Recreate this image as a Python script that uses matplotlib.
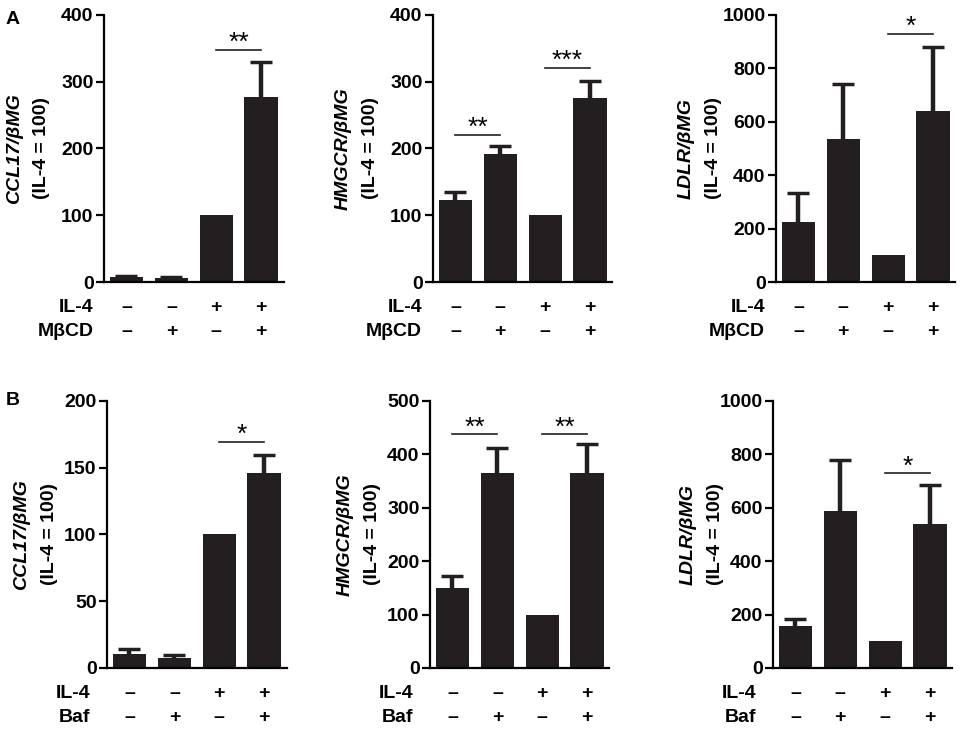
import matplotlib
matplotlib.use("Agg")
import matplotlib.pyplot as plt

plt.rcParams['font.family'] = ['Liberation Sans', 'DejaVu Sans']
plt.rcParams['font.weight'] = 'bold'

# bar values (IL-4 alone = 100)
a_ccl17 = [7, 6, 100, 277]
a_ccl17_err = [1.5, 1, 0, 52]
a_hmgcr = [123, 191, 100, 276]
a_hmgcr_err = [12, 12, 0, 25]
a_ldlr = [226, 537, 100, 641]
a_ldlr_err = [108, 206, 0, 240]

b_ccl17 = [10.7, 7.8, 100, 146]
b_ccl17_err = [3.8, 1.7, 0, 13.5]
b_hmgcr = [149, 364, 100, 364]
b_hmgcr_err = [24, 48, 0, 56]
b_ldlr = [157, 589, 100, 539]
b_ldlr_err = [28, 189, 0, 146]

il4_signs = ['–', '–', '+', '+']
drug_signs = ['–', '+', '–', '+']

genes = ['CCL17', 'HMGCR', 'LDLR']
ymax = {'A': [400, 400, 1000], 'B': [200, 500, 1000]}
ystep = {'A': [100, 100, 200], 'B': [50, 100, 200]}
drugs = {'A': 'MβCD', 'B': 'Baf'}

# significance bars: (from bar, to bar, height, stars)
sig = {
    ('A', 0): [(2, 3, 347, '**')],
    ('A', 1): [(0, 1, 220, '**'), (2, 3, 321, '***')],
    ('A', 2): [(2, 3, 929, '*')],
    ('B', 0): [(2, 3, 169, '*')],
    ('B', 1): [(0, 1, 437, '**'), (2, 3, 437, '**')],
    ('B', 2): [(2, 3, 728, '*')],
}

values = {'A': [(a_ccl17, a_ccl17_err), (a_hmgcr, a_hmgcr_err), (a_ldlr, a_ldlr_err)],
          'B': [(b_ccl17, b_ccl17_err), (b_hmgcr, b_hmgcr_err), (b_ldlr, b_ldlr_err)]}

fig = plt.figure(figsize=(9.65, 7.31), dpi=100)

lefts = {'A': [0.1078, 0.4487, 0.8041], 'B': [0.1109, 0.4456, 0.8010]}
bottoms = {'A': 0.6142, 'B': 0.0862}
# label offsets in axes units: (gene line, unit line, row labels)
offs = {'A': (-0.50, -0.35, -0.06), 'B': (-0.475, -0.32, -0.095)}
w, h = 0.186, 0.3655
dark = '#231f20'
fs = 14

for row in ['A', 'B']:
    for i, gene in enumerate(genes):
        ax = fig.add_axes([lefts[row][i], bottoms[row], w, h])
        vals, errs = values[row][i]
        x = list(range(len(vals)))
        ax.bar(x, vals, width=0.74, color=dark, zorder=2)
        for j in x:
            if errs[j] > 0:
                eb = ax.errorbar(j, vals[j], yerr=[[0], [errs[j]]], fmt='none',
                                 ecolor=dark, elinewidth=3.2, capsize=8,
                                 capthick=2.5, zorder=1)
                eb[1][0].set_visible(False)
        ax.set_xlim(-0.5, 3.5)
        ax.set_ylim(0, ymax[row][i])
        ax.set_yticks(range(0, ymax[row][i] + 1, ystep[row][i]))
        ax.set_xticks([])
        for s in ['top', 'right']:
            ax.spines[s].set_visible(False)
        for s in ['left', 'bottom']:
            ax.spines[s].set_linewidth(1.6)
        ax.tick_params(axis='y', length=6, width=1.6, pad=1.5, labelsize=fs)

        g_off, u_off, r_off = offs[row]
        # y label in two lines
        ax.text(g_off, 0.5, f'{gene}/βMG', transform=ax.transAxes, rotation=90,
                ha='center', va='center', fontsize=fs, style='italic')
        ax.text(u_off, 0.5, '(IL-4 = 100)', transform=ax.transAxes, rotation=90,
                ha='center', va='center', fontsize=fs)

        # treatment rows
        tr = ax.get_xaxis_transform()
        ax.text(r_off, -0.097, 'IL-4', transform=ax.transAxes, ha='right',
                va='center', fontsize=fs)
        ax.text(r_off, -0.187, drugs[row], transform=ax.transAxes, ha='right',
                va='center', fontsize=fs)
        for j in x:
            ax.text(j, -0.097, il4_signs[j], transform=tr, ha='center',
                    va='center', fontsize=fs, clip_on=False)
            ax.text(j, -0.187, drug_signs[j], transform=tr, ha='center',
                    va='center', fontsize=fs, clip_on=False)

        for a, b, y, stars in sig[(row, i)]:
            ax.plot([a, b], [y, y], color=dark, lw=1.2, clip_on=False)
            ax.text((a + b) / 2, y, stars, ha='center', va='baseline',
                    fontsize=19, fontweight='normal', clip_on=False)

fig.text(0.006, 0.985, 'A', fontsize=14, fontweight='bold', va='top')
fig.text(0.006, 0.464, 'B', fontsize=14, fontweight='bold', va='top')

fig.savefig('out.png', dpi=100)
